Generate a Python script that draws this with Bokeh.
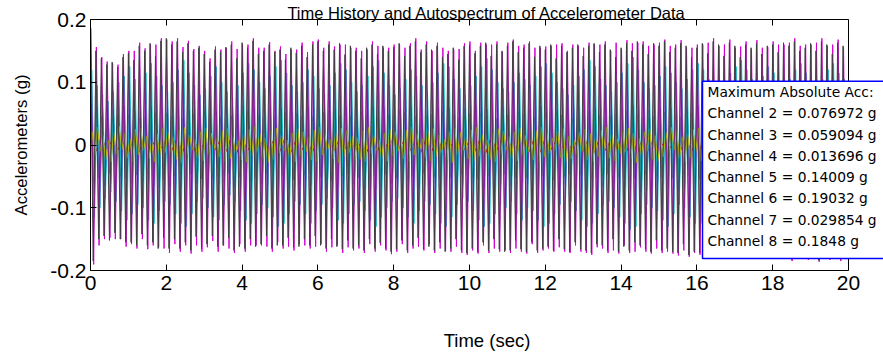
import numpy as np
from bokeh.plotting import figure
from bokeh.models import Range1d, FixedTicker, Label, BoxAnnotation, LinearAxis
from bokeh.embed import file_html
from bokeh.resources import INLINE

# ---------------- texts ----------------
title_text = "Time History and Autospectrum of Accelerometer Data"
x_label = "Time (sec)"
y_label = "Accelerometers (g)"
x_ticks = [0, 2, 4, 6, 8, 10, 12, 14, 16, 18, 20]
y_ticks = [-0.2, -0.1, 0, 0.1, 0.2]
y_tick_labels = ["-0.2", "-0.1", "0", "0.1", "0.2"]
legend_header = "Maximum Absolute Acc:"
channel_numbers = [2, 3, 4, 5, 6, 7, 8]
channel_max_abs = ["0.076972", "0.059094", "0.013696", "0.14009", "0.19032", "0.029854", "0.1848"]

# ---------------- data: successive positive / negative peaks (milli-g) ----------------
ch2_upper = [66,62,58,55,57,60,63, 58,55,52,56,60,62,59, 61,64,60,57,55,58,62, 60,57,54,56,59,62,60,
             63,60,58,55,57,60,62, 59,56,53,55,58,61,63, 60,58,55,57,60,62,59, 57,55,58,61,63,60,57,
             55,58,60,62,59,56,54, 57,60,62,59,56,55,58, 61,63,60,57,55,58,61, 62,59,56,54,57,60,62,
             59,57,55,58,61,63,60, 57,55,58,60,62,59,56, 58,61,63,60,57,55,58, 60,62,59,56,55,58,61,
             63,60,57,55,58,61,62, 59,56,55,58,60,62,59, 57,55,58,61,63,60,57, 55,58,60,62,59,56,58]
ch2_lower = [77,70,65,62,60,63,66, 62,60,58,62,65,68,64, 66,70,67,63,60,62,66, 68,65,62,60,63,67,70,
             72,68,64,62,65,68,71, 73,70,66,63,61,64,67, 70,72,68,65,62,60,63, 66,69,72,70,67,64,62,
             65,68,71,73,70,66,63, 61,64,67,70,72,69,66, 63,66,69,72,74,71,68, 65,62,60,63,66,70,73,
             71,68,65,63,66,69,72, 74,72,69,66,63,61,64, 67,70,73,75,72,69,66, 64,67,70,73,71,68,65,
             63,66,69,72,74,71,68, 66,63,61,64,67,70,72, 69,66,64,67,70,73,71, 68,65,63,66,69,72,70]
ch3_upper = [55,50,45,42,44,48,52, 49,46,43,45,48,51,53, 50,47,44,42,45,49,52, 54,51,48,45,43,46,49,
             52,55,51,47,44,42,45, 48,51,54,50,46,43,45, 49,52,55,51,47,44,46, 50,53,50,46,43,45,48,
             51,54,52,48,45,43,46, 49,52,54,50,47,44,46, 50,53,51,47,44,42,45, 48,51,53,50,46,44,47,
             51,54,52,48,45,43,46, 49,52,50,47,44,46,49, 52,55,51,48,45,43,46, 50,53,51,47,45,48,51,
             53,50,47,44,46,49,52, 54,51,48,45,43,46,50, 53,55,52,48,45,47,50, 52,49,46,44,47,50,53]
ch3_lower = [59.1,53,48,45,47,50,54, 51,48,45,47,50,53,56, 52,49,46,44,47,51,54, 56,53,50,47,45,48,51,
             54,57,53,49,46,44,47, 50,53,56,52,48,45,47, 51,54,57,53,49,46,48, 52,55,52,48,45,47,50,
             53,56,54,50,47,45,48, 51,54,56,52,49,46,48, 52,55,53,49,46,44,47, 50,53,55,52,48,46,49,
             53,56,54,50,47,45,48, 51,54,52,49,46,48,51, 54,57,53,50,47,45,48, 52,55,53,49,47,50,53,
             55,52,49,46,48,51,54, 56,53,50,47,45,48,52, 55,57,54,50,47,49,52, 54,51,48,46,49,52,55]
ch4_upper = [9,12,7,5,10,13.7,8,6,11,12, 7,4,9,12,10,6,8,11,13,9, 5,8,12,10,7,4,9,11,13,8,
             6,10,12,9,5,7,11,13,10,6, 8,12,11,7,4,9,12,10,6,8, 11,13,9,5,7,10,12,8,6,9,
             12,11,7,5,8,10,13,9,6,8]
ch4_lower = [10,6,8,12,11,7,5,9,12,10, 6,8,11,13,9,5,7,10,12,8, 11,13,9,6,8,12,10,7,5,9,
             12,11,7,4,8,10,13,9,6,8, 11,12,8,5,7,10,12,9,6,11, 13,9,7,5,8,11,12,10,6,9,
             12,8,6,10,11,13,9,7,5,10]
ch5_upper = [120,95,80,70,85,100,110, 125,105,90,115,130,110,95, 85,100,120,135,115,95,80, 90,110,125,100,85,75,95,
             115,130,120,100,90,110,125, 135,115,95,85,100,120,110, 90,80,95,115,130,120,100, 85,95,110,125,135,115,95,
             80,90,105,120,110,95,85, 100,115,130,125,105,90,80, 95,110,125,138,120,100,90, 85,100,115,105,95,110,125,
             130,115,100,90,80,95,110, 120,135,125,105,95,85,100, 115,130,140.1,120,100,90,95, 110,125,115,100,90,105,120,
             130,120,105,95,85,100,115, 125,135,120,105,95,110,125, 115,100,90,105,120,130,115, 100,90,105,120,130,115,105]
ch5_lower = [115,100,85,75,90,105,120, 110,95,100,120,125,105,90, 95,110,125,130,110,90,85, 100,115,120,95,80,90,105,
             120,125,110,95,100,115,130, 125,110,90,95,110,125,105, 95,85,100,120,125,110,95, 90,105,120,130,115,100,90,
             85,100,115,125,105,90,95, 110,125,130,115,95,85,90, 105,120,130,125,110,95,100, 90,110,120,100,105,120,130,
             125,110,95,85,90,105,120, 130,125,110,95,90,100,115, 125,135,130,110,95,100,105, 120,130,110,95,100,115,125,
             125,110,100,90,95,110,125, 130,125,110,100,105,120,130, 110,95,100,115,125,120,105, 95,100,115,125,120,110,100]
ch6_upper = [186,156,140,133,130,128,145, 150,150,163,154,160,160,170, 168,165,170,156,166,153,158, 150,138,157,152,154,165,153,
             160,160,170,155,155,164,150, 157,145,152,152,163,148,165, 168,155,165,157,160,160,155, 155,150,152,165,158,155,155,
             160,160,155,162,170,152,165, 150,163,155,150,152,153,162, 165,150,163,160,160,165,148, 163,168,158,160,165,155,155,
             157,158,160,162,150,160,158, 155,163,160,160,165,150,163, 152,167,162,163,165,158,160, 163,168,158,160,167,155,155,
             160,160,163,170,158,160,168, 155,157,165,152,167,155,156, 165,160,160,163,170,158,160, 160,163,170,158,160,168,155]
ch6_lower = [190.3,160,150,148,150,150,162, 158,165,150,166,160,163,165, 172,158,170,160,173,160,170, 163,153,170,160,165,172,158,
             170,160,160,160,162,170,155, 165,162,168,158,160,165,162, 158,170,163,160,172,163,168, 165,172,158,170,160,168,174,
             170,158,172,165,162,168,158, 172,165,168,170,162,172,175, 168,173,160,172,165,170,168, 172,165,170,173,158,172,168,
             165,170,163,170,172,160,170, 172,175,163,165,172,168,173, 160,172,170,163,170,173,165, 172,170,173,176,168,178,172,
             175,170,178,172,170,175,172, 173,178,170,176,180,173,176, 180,172,180,185,175,178,183, 180,186,180,183,178,185,182]
ch7_upper = [22,28,15,8,20,29.9,18, 10,25,27,14,6,18,26, 20,12,24,28,16,9,21, 27,19,11,23,26,13,7,
             17,25,29,18,10,22,27, 15,8,19,26,21,12,24, 28,17,9,20,27,23,14, 11,22,28,16,8,19,25,
             21,13,24,29,18,10,23, 26,16,9,21,27,20,12, 24,28,17,8,19,26,22, 13,21,27,15,9,23,28,
             19,11,22,26,14,8,20, 25,18,12,24,28,16,10, 22,27,19,11,21,26,15, 9,20,28,23,13,18,25,
             27,16,10,22,26,19,12, 23,28,17,9,20,25,21, 14,22,27,18,11,24,28, 17,10,21,26,15,20,24]
ch7_lower = [18,10,24,27,14,8,20, 26,16,9,22,27,19,12, 11,23,28,15,8,21,25, 14,7,19,26,22,12,24,
             27,17,10,21,28,23,13, 9,20,27,18,11,24,26, 16,8,22,28,19,12,25, 23,27,14,9,21,26,18,
             10,22,27,16,8,20,25, 19,12,24,28,15,9,22, 26,18,10,23,27,14,8, 21,25,16,11,24,28,19,
             13,8,20,26,22,15,10, 24,27,18,9,21,25,14, 11,22,28,17,10,23,26, 19,13,8,21,27,20,12,
             25,28,16,10,22,26,18, 9,21,27,15,8,19,24, 28,17,11,23,26,14,9, 20,25,18,12,24,27,16]
ch8_upper = [178,150,138,128,132,124,140, 146,135,158,150,162,142,166, 170,160,165,148,162,150,155, 145,132,152,148,156,160,138,
             163,155,166,145,150,160,148, 152,136,155,147,158,140,160, 165,150,160,152,162,144,158, 150,138,155,160,145,158,150,
             156,162,142,158,165,148,160, 152,158,140,145,155,136,158, 160,146,158,163,142,160,150, 158,165,148,155,162,140,158,
             152,160,138,158,148,155,160, 142,158,162,148,160,152,140, 155,162,150,165,160,145,162, 158,165,148,155,162,158,140,
             155,162,146,165,160,142,163, 158,140,160,155,162,145,158, 160,148,163,158,165,150,155, 162,150,165,160,145,163,158]
ch8_lower = [184.8,150,145,152,140,150,155, 155,160,142,160,155,165,148, 165,150,165,155,168,146,165, 158,145,162,160,148,168,162,
             165,150,162,158,145,165,160, 160,148,163,162,150,160,145, 160,165,150,162,166,152,165, 160,168,150,165,156,165,170,
             166,152,168,160,148,166,162, 168,155,170,165,150,168,172, 165,170,155,168,150,166,170, 168,152,166,170,155,168,165,
             162,168,150,166,170,155,166, 168,172,158,160,168,150,170, 162,168,155,160,166,170,152, 168,165,170,172,158,175,170,
             172,160,175,170,158,172,168, 170,175,160,172,178,165,174, 176,165,178,182,168,176,180, 178,184,170,180,175,182,170]

channel_peaks = {2: (ch2_upper, ch2_lower), 3: (ch3_upper, ch3_lower), 4: (ch4_upper, ch4_lower),
                 5: (ch5_upper, ch5_lower), 6: (ch6_upper, ch6_lower), 7: (ch7_upper, ch7_lower),
                 8: (ch8_upper, ch8_lower)}

# ---------------- styles / layout ----------------
channel_colors = {2: "#0000ff", 3: "#008000", 4: "#ff0000", 5: "#00c8c8", 6: "#d000d0", 7: "#c0c000", 8: "#404040"}
channel_phase = {2: 0.030, 3: 0.012, 4: 0.0, 5: 0.035, 6: 0.012, 7: 0.040, 8: 0.0}
T_END = 20.0
FONT = "Liberation Sans"
LEGEND_FONT = "DejaVu Sans"

W, H = 883, 356
AX_LEFT, AX_RIGHT, AX_TOP, AX_BOTTOM = 90, 848, 18, 270      # page pixels of the axes box
PX_PER_S = (AX_RIGHT - AX_LEFT) / 20.0
PX_PER_G = (AX_BOTTOM - AX_TOP) / 0.4
x_end = 20 + (W - AX_RIGHT) / PX_PER_S
TICK_LEN = 6

p = figure(width=W, height=H, x_range=Range1d(0, x_end), y_range=Range1d(-0.2, 0.2),
           output_backend="svg", toolbar_location=None,
           min_border_left=AX_LEFT, min_border_right=0, min_border_top=0, min_border_bottom=H - AX_BOTTOM,
           background_fill_color="white", border_fill_color="white")
p.outline_line_color = None
p.grid.visible = False

for ch in channel_numbers:
    up, lo = channel_peaks[ch]
    n = min(len(up), len(lo))
    y = np.empty(2 * n)
    y[0::2] = np.asarray(up[:n], dtype=float) / 1000.0
    y[1::2] = -np.asarray(lo[:n], dtype=float) / 1000.0
    t = channel_phase[ch] + np.arange(2 * n) * (T_END / (2 * n))
    p.line(t, y, line_color=channel_colors[ch], line_width=1.0)

# right edge of the box with inward ticks
p.segment(x0=[20], y0=[-0.2], x1=[20], y1=[0.2], line_color="black", line_width=1)
p.segment(x0=[20] * len(y_ticks), y0=y_ticks, x1=[20 - TICK_LEN / PX_PER_S] * len(y_ticks), y1=y_ticks,
          line_color="black", line_width=1)

bottom_ax = p.below[0]
left_ax = p.left[0]
top_ax = LinearAxis()
p.add_layout(top_ax, "above")

for ax, ticks, bnd in ((bottom_ax, x_ticks, (0, 20)), (left_ax, y_ticks, (-0.2, 0.2)),
                       (top_ax, x_ticks, (0, 20))):
    ax.ticker = FixedTicker(ticks=ticks)
    ax.bounds = bnd
    ax.major_tick_in = TICK_LEN
    ax.major_tick_out = 0
    ax.minor_tick_line_color = None
    ax.axis_line_color = "black"
    ax.major_tick_line_color = "black"
    ax.major_label_text_font = FONT
    ax.major_label_text_font_size = "21px"
    ax.major_label_text_color = "black"
    ax.axis_label_text_font = FONT
    ax.axis_label_text_font_style = "normal"
    ax.axis_label_text_color = "black"

# top edge carries the title as its label
top_ax.major_label_overrides = {t: "" for t in x_ticks}
top_ax.major_label_text_font_size = "0px"
top_ax.major_label_standoff = 0
top_ax.axis_label = title_text
top_ax.axis_label_text_font_size = "16.5px"
top_ax.axis_label_standoff = -2

bottom_ax.major_label_standoff = 5
left_ax.major_label_standoff = 4
left_ax.major_label_overrides = {t: s for t, s in zip(y_ticks, y_tick_labels)}
bottom_ax.axis_label = x_label
bottom_ax.axis_label_text_font_size = "18.5px"
bottom_ax.axis_label_standoff = 37
left_ax.axis_label = y_label
left_ax.axis_label_text_font_size = "16.7px"
left_ax.axis_label_standoff = 16

# legend text box
box_left_s = 20 - (AX_RIGHT - 702) / PX_PER_S
box_top_g = 0.2 - (80 - AX_TOP) / PX_PER_G
box_bottom_g = 0.2 - (258 - AX_TOP) / PX_PER_G
p.add_layout(BoxAnnotation(left=box_left_s, right=x_end + 1, top=box_top_g, bottom=box_bottom_g,
                           fill_color="white", fill_alpha=1.0, line_color="#0000ff", line_alpha=1.0,
                           line_width=1.5, level="annotation"))
legend_lines = [legend_header] + [f"Channel {n} = {v} g" for n, v in zip(channel_numbers, channel_max_abs)]
text_left_s = 20 - (AX_RIGHT - 707) / PX_PER_S
first_center_page = 91
line_step_page = 21.3
for i, line in enumerate(legend_lines):
    yc = 0.2 - (first_center_page + i * line_step_page - AX_TOP) / PX_PER_G
    p.add_layout(Label(x=text_left_s, y=yc, text=line, text_align="left", text_baseline="middle",
                       text_font=LEGEND_FONT, text_font_size="13.8px", text_color="black"))

open("out.html", "w").write(file_html(p, INLINE))
